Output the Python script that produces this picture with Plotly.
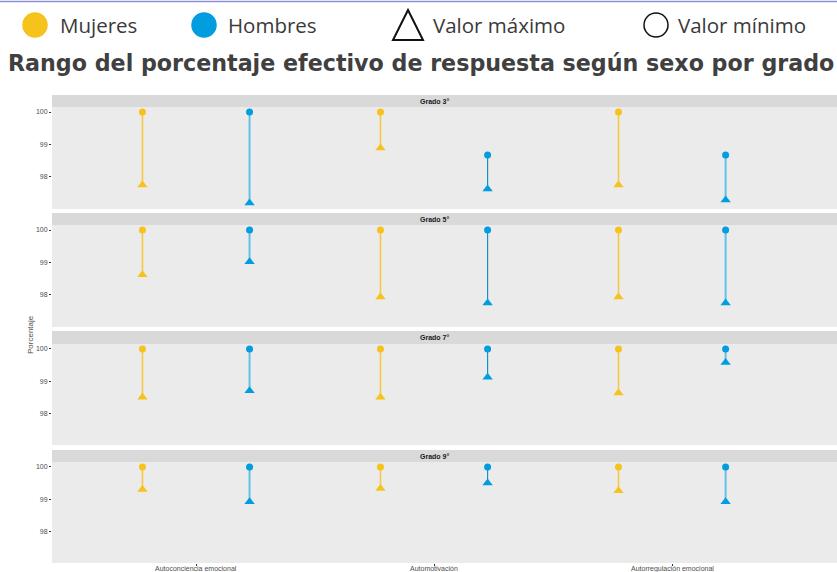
import plotly.graph_objects as go

# ---------------- data ----------------
categorias = ["Autoconciencia emocional", "Automotivación", "Autorregulación emocional"]
grados = ["Grado 3°", "Grado 5°", "Grado 7°", "Grado 9°"]
sexos = ["Mujeres", "Hombres"]

mujeres_max = [[100, 100, 100], [100, 100, 100], [100, 100, 100], [100, 100, 100]]
mujeres_min = [[97.75, 98.89, 97.75], [98.62, 97.94, 97.94], [98.50, 98.50, 98.63], [99.30, 99.33, 99.26]]
hombres_max = [[100, 98.68, 98.68], [100, 100, 100], [100, 100, 100], [100, 100, 100]]
hombres_min = [[97.20, 97.63, 97.29], [99.02, 97.75, 97.75], [98.70, 99.12, 99.58], [98.92, 99.50, 98.92]]

y_ticks = [98, 99, 100]

# ---------------- styles ----------------
W, H = 837, 572
col_m = "#F6C21C"
col_h = "#019DDF"
line_m = "#F7C842"
line_h_light = "#62C1EA"
line_h_dark = "#1590CC"
offset = {"Mujeres": -0.225, "Hombres": 0.225}

# panel pixel geometry (top of strip, top of plot, bottom of plot)
panels = [(95, 107, 209), (213, 225, 327), (331, 344, 445), (450, 462, 563)]
x_left, x_right = 52, 837
yr = [97.015, 100.154]
xr = [0.395, 3.693]


def fy(p):
    return 1 - p / H


fig = go.Figure()
layout = {}
shapes = []
annotations = []

for i, g in enumerate(grados):
    n = "" if i == 0 else str(i + 1)
    xa = "x" + n
    ya = "y" + n
    s_top, p_top, p_bot = panels[i]
    for sexo in sexos:
        mx = mujeres_max[i] if sexo == "Mujeres" else hombres_max[i]
        mn = mujeres_min[i] if sexo == "Mujeres" else hombres_min[i]
        col = col_m if sexo == "Mujeres" else col_h
        for j, cat in enumerate(categorias):
            xpos = j + 1 + offset[sexo]
            if sexo == "Mujeres":
                lc, lw = line_m, 1.6
            else:
                lc, lw = (line_h_dark, 1.2) if j == 1 else (line_h_light, 2)
            fig.add_trace(go.Scatter(x=[xpos, xpos], y=[mn[j], mx[j]], mode="lines",
                                     line=dict(color=lc, width=lw), xaxis=xa, yaxis=ya,
                                     showlegend=False, hoverinfo="skip"))
            fig.add_trace(go.Scatter(x=[xpos], y=[mx[j]], mode="markers",
                                     marker=dict(symbol="circle", size=7, color=col),
                                     xaxis=xa, yaxis=ya, showlegend=False))
            fig.add_trace(go.Scatter(x=[xpos], y=[mn[j]], mode="markers",
                                     marker=dict(symbol="triangle-up", size=9, color=col),
                                     xaxis=xa, yaxis=ya, showlegend=False))
    last = i == len(grados) - 1
    layout["xaxis" + n] = dict(
        domain=[x_left / W, x_right / W], range=xr, anchor=ya, automargin=False,
        tickvals=[1, 2, 3], showticklabels=False,
        ticks="outside" if last else "", ticklen=2, tickcolor="#333",
        showgrid=False, zeroline=False, showline=False, fixedrange=True,
    )
    layout["yaxis" + n] = dict(
        domain=[fy(p_bot), fy(p_top)], range=yr, anchor=xa, automargin=False,
        tickvals=y_ticks, ticks="outside", ticklen=2, tickcolor="#333",
        tickfont=dict(size=7, color="#4d4d4d", family="Liberation Sans"),
        showgrid=False, zeroline=False, showline=False, fixedrange=True,
    )
    # panel background
    shapes.append(dict(type="rect", xref="paper", yref="paper",
                       x0=x_left / W, x1=x_right / W, y0=fy(p_bot), y1=fy(p_top),
                       fillcolor="#EBEBEB", line=dict(width=0), layer="below"))
    # strip
    shapes.append(dict(type="rect", xref="paper", yref="paper",
                       x0=x_left / W, x1=x_right / W, y0=fy(p_top), y1=fy(s_top),
                       fillcolor="#D9D9D9", line=dict(width=0), layer="below"))
    annotations.append(dict(text="<b>" + g + "</b>", xref="paper", yref="paper",
                            x=434 / W, y=fy((s_top + p_top) / 2), showarrow=False,
                            font=dict(size=7, color="#1a1a1a", family="Liberation Sans"),
                            xanchor="center", yanchor="middle"))

# category labels under the bottom panel (positioned on the data axis)
for j, cat in enumerate(categorias):
    annotations.append(dict(text=cat, xref="x4", yref="paper", x=j + 1, y=fy(568.5),
                            showarrow=False, xanchor="center", yanchor="middle",
                            font=dict(size=7, color="#4d4d4d", family="Liberation Sans")))

# y axis title
annotations.append(dict(text="Porcentaje", xref="paper", yref="paper", x=30 / W, y=fy(335),
                        textangle=-90, showarrow=False, xanchor="center", yanchor="middle",
                        font=dict(size=8, color="#4d4d4d", family="Liberation Sans")))

# title
annotations.append(dict(text="<b>Rango del porcentaje efectivo de respuesta según sexo por grado</b>",
                        xref="paper", yref="paper", x=421 / W, y=fy(63), showarrow=False,
                        xanchor="center", yanchor="middle",
                        font=dict(size=22.2, color="#404040", family="DejaVu Sans")))

# top line
shapes.append(dict(type="line", xref="paper", yref="paper", x0=0, x1=1, y0=fy(1.5), y1=fy(1.5),
                   line=dict(color="#8A90DA", width=1.5)))

# legend (drawn manually)
leg_y = 25
r = 12
for cx, fill, lcol in [(35, col_m, col_m), (204, col_h, col_h), (656, "rgba(0,0,0,0)", "#111")]:
    shapes.append(dict(type="circle", xref="paper", yref="paper",
                       x0=(cx - r) / W, x1=(cx + r) / W, y0=fy(leg_y + r), y1=fy(leg_y - r),
                       fillcolor=fill, line=dict(color=lcol, width=1.5)))
shapes.append(dict(type="path", xref="paper", yref="paper",
                   path="M {} {} L {} {} L {} {} Z".format(393 / W, fy(40), 423 / W, fy(40), 408 / W, fy(10)),
                   fillcolor="rgba(0,0,0,0)", line=dict(color="#111", width=2)))
for tx, label in [(58, "Mujeres"), (226, "Hombres"), (431, "Valor máximo"), (676, "Valor mínimo")]:
    annotations.append(dict(text=label, xref="paper", yref="paper", x=tx / W, y=fy(leg_y),
                            showarrow=False, xanchor="left", yanchor="middle",
                            font=dict(size=20.5, color="#3a3a3a", family="Open Sans")))

fig.update_layout(
    width=W, height=H, margin=dict(l=0, r=0, t=0, b=0),
    paper_bgcolor="white", plot_bgcolor="rgba(0,0,0,0)",
    shapes=shapes, annotations=annotations, showlegend=False,
    **layout,
)

fig.write_html("out.html", config={"displayModeBar": False},
               post_script="document.body.style.margin='0';document.body.style.overflow='hidden';")
